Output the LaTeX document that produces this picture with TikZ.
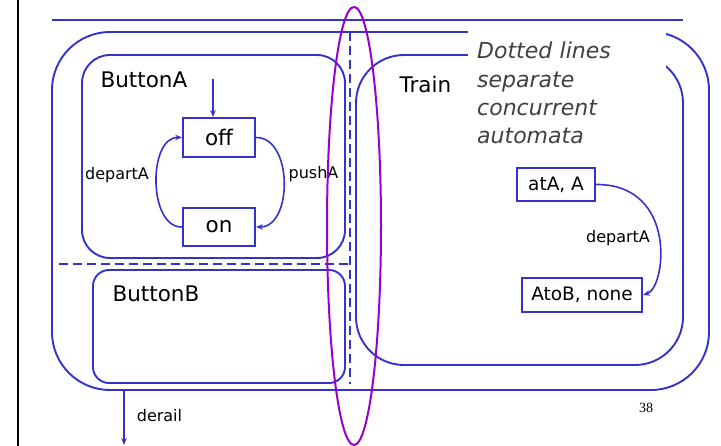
\documentclass[tikz,border=0pt]{standalone}
\usepackage{fontspec}
\setmainfont{DejaVu Sans}
\newfontfamily\pagenumfont{Liberation Serif}
\usetikzlibrary{arrows.meta}
\definecolor{frameblue}{RGB}{51,51,204}
\definecolor{ovalpurple}{RGB}{153,0,204}
\definecolor{notegray}{RGB}{64,64,64}

\begin{document}
\begin{tikzpicture}[x=1pt,y=-1pt,
  frame/.style={draw=frameblue, line width=1.9pt, inner sep=0pt, outer sep=0pt},
  state/.style={draw=frameblue, line width=1.9pt, fill=white, inner sep=0pt,
                font=\fontsize{21.5}{25}\selectfont},
  trans/.style={draw=frameblue, line width=1.6pt, -{Stealth[length=7pt,width=5.5pt]}},
  lbl/.style={font=\fontsize{16}{19}\selectfont, anchor=base},
  title/.style={font=\fontsize{21.5}{25}\selectfont, anchor=base west},
  sepline/.style={draw=frameblue, line width=1.9pt, dash pattern=on 9pt off 5pt}]
\useasboundingbox (0,0) rectangle (721,446);

% page rule and header line
\coordinate (ruleTop) at (18,0);
\coordinate (ruleBot) at (18,446);
\draw[line width=2.5pt] (ruleTop) -- (ruleBot);
\coordinate (headL) at (52,20);
\coordinate (headR) at (683,20);
\draw[frameblue, line width=2pt] (headL) -- (headR);

% superstate and its concurrent regions
\node[frame, rounded corners=58pt, minimum width=657pt, minimum height=358pt] (outer) at (380.5,211) {};
\node[frame, rounded corners=28pt, minimum width=263pt, minimum height=203pt] (btnA) at (213.5,156.5) {};
\node[frame, rounded corners=16pt, minimum width=252pt, minimum height=113pt] (btnB) at (219,326.5) {};
\node[frame, rounded corners=48pt, minimum width=327pt, minimum height=310pt] (train) at (519.5,210) {};

% region separators
\coordinate (vsTop) at (350,32);
\coordinate (vsBot) at (350,384);
\coordinate (hsL) at (59,264);
\coordinate (hsR) at (350,264);
\draw[sepline] (vsTop) -- (vsBot);
\draw[sepline] (hsL) -- (hsR);

% region titles
\node[title] (tA) at (97,88) {ButtonA};
\node[title] (tB) at (109,302) {ButtonB};
\node[title] (tT) at (396,93) {Train};

% annotation
\node[fill=white, anchor=north west, inner xsep=9pt, inner ysep=12pt, text width=180pt,
      align=left, text=notegray, font=\fontsize{22}{28.3}\selectfont\itshape]
  (note) at (468,30) {Dotted lines\\separate\\concurrent\\automata};

% ButtonA automaton
\node[state, minimum width=72pt, minimum height=39pt] (off) at (219,137.5) {off};
\node[state, minimum width=72pt, minimum height=38pt] (on) at (219,227) {on};
\coordinate (initA) at (213,79);
\draw[trans] (initA) -- (initA |- off.north);
\draw[trans] (off.east) .. controls (293,137) and (293,227) .. (on.east);
\draw[trans] (on.west) .. controls (148,228) and (148,137) .. (off.west);
\node[lbl] (lpush) at (313.5,179) {pushA};
\node[lbl] (ldepA) at (117,180) {departA};

% Train automaton
\node[state, font=\fontsize{18.5}{22}\selectfont, minimum width=78pt, minimum height=33pt] (atA) at (556,184.5) {atA, A};
\node[state, font=\fontsize{18.5}{22}\selectfont, minimum width=120pt, minimum height=34pt] (atob) at (582,295) {AtoB, none};
\draw[trans] (atA.east) .. controls (678,184) and (666,288) .. (atob.east);
\node[lbl] (ldepT) at (618,243) {departA};

% exit transition
\coordinate (derailEnd) at (124,445);
\draw[trans] (outer.south -| derailEnd) -- (derailEnd);
\node[lbl] (lder) at (159.5,422) {derail};

% page number
\node[anchor=base, font=\pagenumfont\fontsize{14}{16}\selectfont] (pg) at (646,413) {38};

% highlight oval
\coordinate (ovalC) at (354,226);
\draw[ovalpurple, line width=2pt] (ovalC) ellipse [x radius=27pt, y radius=219pt];
\end{tikzpicture}
\end{document}
